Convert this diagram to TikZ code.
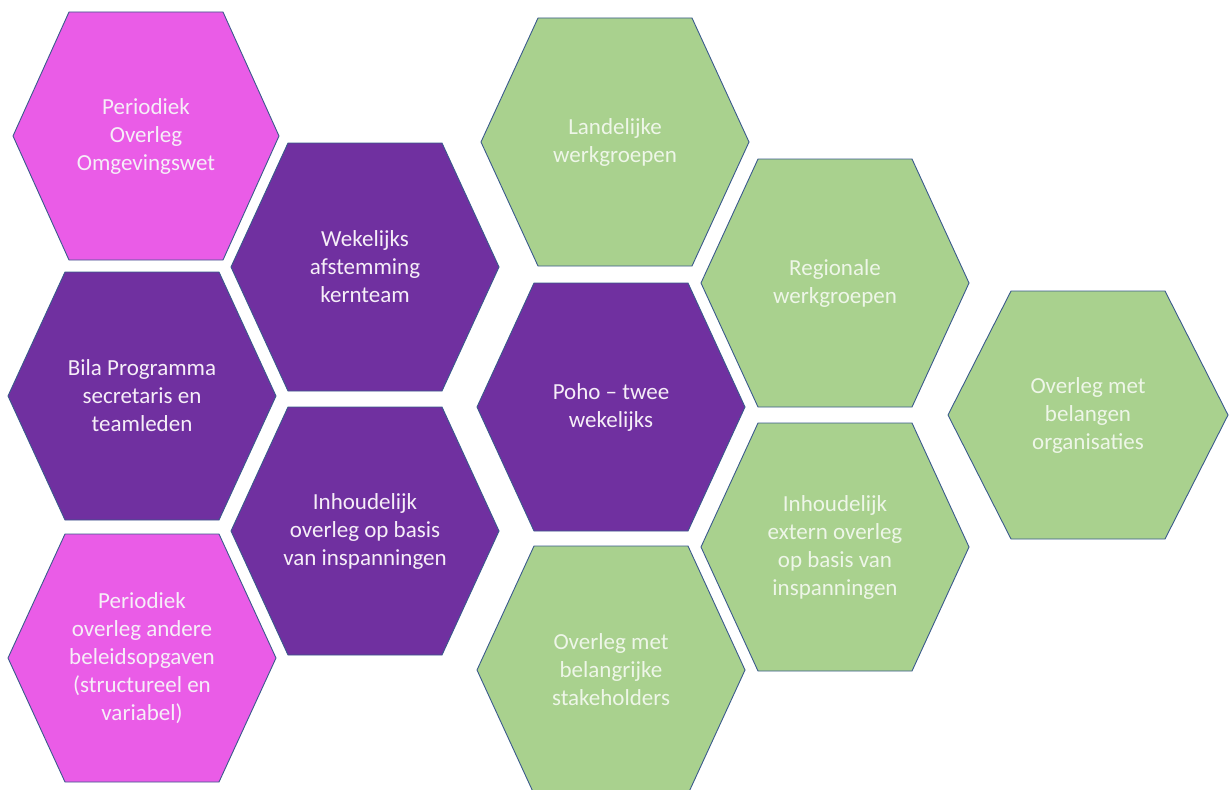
\documentclass[tikz,border=0pt]{standalone}
\usepackage{fontspec}
\setmainfont{Carlito}
\definecolor{hexpink}{HTML}{EA5CE7}
\definecolor{hexpurple}{HTML}{7030A0}
\definecolor{hexgreen}{HTML}{A9D18E}
\definecolor{hexline}{HTML}{3A5A8C}
\definecolor{greentext}{HTML}{EEF6E8}
\definecolor{purpletext}{HTML}{F6EEF8}
\tikzset{
  pinkhex/.style={fill=hexpink,draw=hexline,line width=0.9pt},
  purplehex/.style={fill=hexpurple,draw=hexline,line width=0.9pt},
  greenhex/.style={fill=hexgreen,draw=hexline,line width=0.9pt},
  hextext/.style={align=center,font=\fontsize{23}{28}\selectfont,inner sep=0pt},
}
% #1 name, #2 cx, #3 cy, #4 half width, #5 style, #6 text colour, #7 text
\newcommand\hexcell[7]{%
  \begin{scope}[shift={(#2,#3)}]
    \draw[#5] (-#4,0) -- (-77,-124) -- (77,-124) -- (#4,0) -- (77,124) -- (-77,124) -- cycle;
    \node[hextext,text=#6] (#1) at (0,0) {#7};
  \end{scope}%
}
\begin{document}
\begin{tikzpicture}[x=1pt,y=-1pt]
\useasboundingbox (0,0) rectangle (1230,789);
\clip (0,0) rectangle (1230,789);
\hexcell{h1}{146}{136}{133}{pinkhex}{purpletext}{Periodiek\\Overleg\\Omgevingswet}
\hexcell{h2}{365}{267}{134}{purplehex}{purpletext}{Wekelijks\\afstemming\\kernteam}
\hexcell{h3}{142}{396}{134}{purplehex}{purpletext}{Bila Programma\\secretaris en\\teamleden}
\hexcell{h4}{365}{531}{134}{purplehex}{purpletext}{Inhoudelijk\\overleg op basis\\van inspanningen}
\hexcell{h5}{142}{658}{134}{pinkhex}{purpletext}{Periodiek\\overleg andere\\beleidsopgaven\\(structureel en\\variabel)}
\hexcell{h6}{615}{142}{134}{greenhex}{greentext}{Landelijke\\werkgroepen}
\hexcell{h7}{611}{407}{134}{purplehex}{purpletext}{Poho -- twee\\wekelijks}
\hexcell{h8}{611}{670}{134}{greenhex}{greentext}{Overleg met\\belangrijke\\stakeholders}
\hexcell{h9}{835}{283}{134}{greenhex}{greentext}{Regionale\\werkgroepen}
\hexcell{h10}{835}{547}{134}{greenhex}{greentext}{Inhoudelijk\\extern overleg\\op basis van\\inspanningen}
\hexcell{h11}{1088}{415}{140}{greenhex}{greentext}{Overleg met\\belangen\\organisaties}
\end{tikzpicture}
\end{document}
